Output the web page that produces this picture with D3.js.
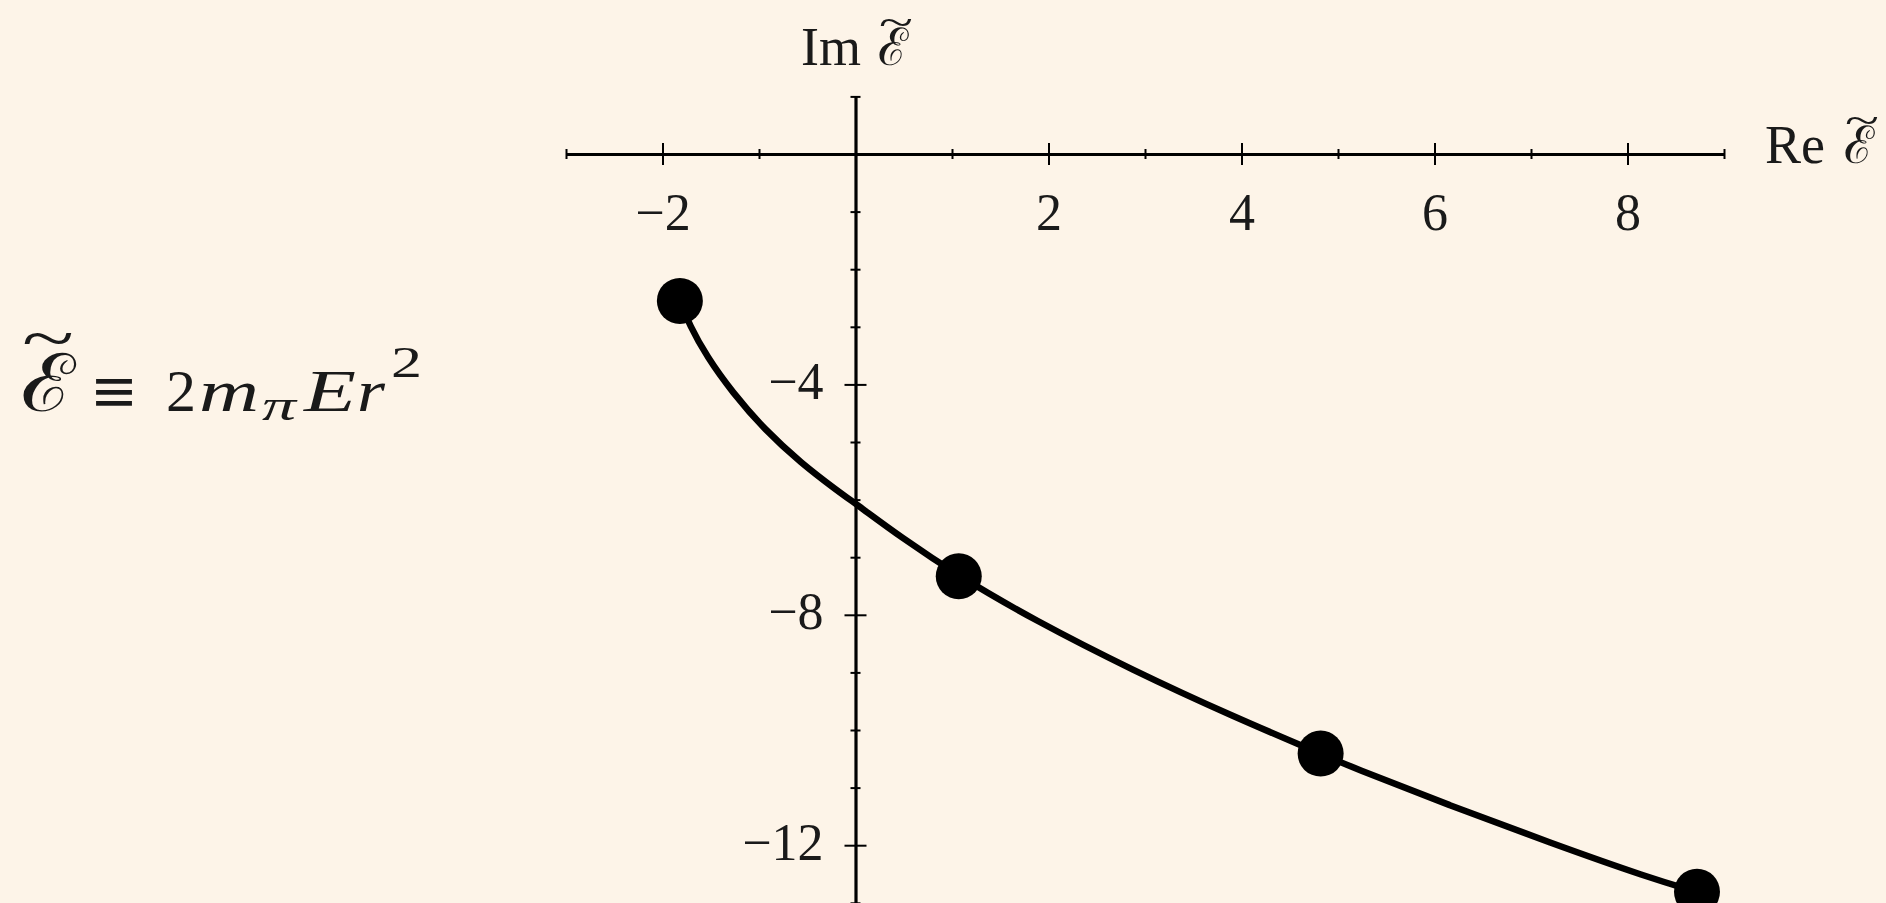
<!DOCTYPE html>
<html>
<head>
<meta charset="utf-8">
<script src="https://cdn.jsdelivr.net/npm/d3@7"></script>
<style>
  html, body { margin: 0; padding: 0; background: #fdf4e8; }
  svg { display: block; }
  text { font-family: "Liberation Serif", "DejaVu Serif", serif; fill: #1a1a1a; }
</style>
</head>
<body>
<svg id="chart" width="1886" height="903"></svg>
<script>
// Points marked on the trajectory (Re, Im of the scaled energy)
const markerRe = [-1.82, 1.07, 4.82, 8.72];
const markerIm = [-2.55, -7.33, -10.41, -12.81];

// Trajectory of the pole in the complex energy plane
const curveRe = [-1.82, -1.72, -1.54, -1.28, -0.94, -0.56, -0.20, 0.05, 0.46, 1.07, 1.84, 2.88, 3.92, 4.82, 5.12, 6.16, 7.20, 8.23, 8.72];
const curveIm = [-2.55, -2.97, -3.52, -4.13, -4.79, -5.37, -5.83, -6.13, -6.64, -7.33, -8.08, -8.97, -9.77, -10.41, -10.63, -11.31, -11.96, -12.57, -12.81];

// Axis ticks
const xMajorTicks = [-2, 2, 4, 6, 8];
const xMinorTicks = [-3, -1, 1, 3, 5, 7, 9];
const yMajorTicks = [-4, -8, -12];
const yMinorTicks = [1, -1, -2, -3, -5, -6, -7, -9, -10, -11, -13];

const svg = d3.select("#chart");
const W = 1886, H = 903;

const x = d3.scaleLinear().domain([-3, 9]).range([566, 1724]);
const y = d3.scaleLinear().domain([1, -14]).range([96.4, 96.4 + 15 * 57.6]);

svg.append("rect").attr("width", W).attr("height", H).attr("fill", "#fdf4e8");

const plot = svg.append("g");
const minus = d => (d < 0 ? "\u2212" + Math.abs(d) : String(d));

// Horizontal (real) axis through the origin, ticks on both sides
const gx = plot.append("g").attr("transform", `translate(0,${y(0)})`);
gx.append("g")
  .call(d3.axisBottom(x).tickValues(xMinorTicks).tickSize(5).tickSizeOuter(0).tickFormat(""))
  .call(g => g.select(".domain").attr("stroke", "#000").attr("stroke-width", 3.2))
  .call(g => g.selectAll(".tick line").attr("y1", -5).attr("stroke", "#000").attr("stroke-width", 2));
gx.append("g")
  .call(d3.axisBottom(x).tickValues(xMajorTicks).tickSize(11).tickSizeOuter(0).tickFormat(minus))
  .call(g => g.select(".domain").remove())
  .call(g => g.selectAll(".tick line").attr("y1", -11).attr("stroke", "#000").attr("stroke-width", 2))
  .call(g => g.selectAll(".tick text")
    .attr("y", 76).attr("dy", 0)
    .attr("font-size", 52).attr("font-family", "Liberation Serif").attr("fill", "#1a1a1a"));

// Vertical (imaginary) axis through the origin
const gy = plot.append("g").attr("transform", `translate(${x(0)},0)`);
gy.append("g")
  .call(d3.axisLeft(y).tickValues(yMinorTicks).tickSize(5).tickSizeOuter(0).tickFormat(""))
  .call(g => g.select(".domain").attr("stroke", "#000").attr("stroke-width", 3.2))
  .call(g => g.selectAll(".tick line").attr("x1", 5).attr("stroke", "#000").attr("stroke-width", 2));
gy.append("g")
  .call(d3.axisLeft(y).tickValues(yMajorTicks).tickSize(11).tickSizeOuter(0).tickFormat(minus))
  .call(g => g.select(".domain").remove())
  .call(g => g.selectAll(".tick line").attr("x1", 11).attr("stroke", "#000").attr("stroke-width", 2))
  .call(g => g.selectAll(".tick text")
    .attr("x", -32).attr("dy", 14).attr("text-anchor", "end")
    .attr("font-size", 52).attr("font-family", "Liberation Serif").attr("fill", "#1a1a1a"));

// Trajectory curve (B-spline through the sampled points keeps it smooth)
const pts = curveRe.map((d, i) => [d, curveIm[i]]);
plot.append("path")
  .datum(pts)
  .attr("fill", "none")
  .attr("stroke", "#000")
  .attr("stroke-width", 6.5)
  .attr("stroke-linecap", "round")
  .attr("d", d3.line().x(d => x(d[0])).y(d => y(d[1])).curve(d3.curveBasis));

// Marked points
plot.selectAll("circle.mark")
  .data(markerRe.map((d, i) => [d, markerIm[i]]))
  .join("circle")
  .attr("class", "mark")
  .attr("cx", d => x(d[0]))
  .attr("cy", d => y(d[1]))
  .attr("r", 23)
  .attr("fill", "#000");

// Script E with a wide tilde, appended as tspans of an existing text
function tildeE(t, xPos, base, size, eW, tildeW, tildeY) {
  t.append("tspan").attr("x", xPos).attr("y", base)
    .attr("font-family", "DejaVu Serif").attr("font-size", size)
    .attr("textLength", eW).attr("lengthAdjust", "spacingAndGlyphs").text("\u2130");
  t.append("tspan").attr("x", xPos + 1).attr("y", tildeY)
    .attr("font-family", "Liberation Serif").attr("font-size", size * 0.8)
    .attr("textLength", tildeW).attr("lengthAdjust", "spacingAndGlyphs")
    .text("~");
}

const titles = svg.append("g");
const imT = titles.append("text").attr("font-size", 54);
imT.append("tspan").attr("x", 801).attr("y", 65).text("Im");
tildeE(imT, 878, 65, 52, 30, 34, 36);

const reT = titles.append("text").attr("font-size", 54);
reT.append("tspan").attr("x", 1765).attr("y", 163).text("Re");
tildeE(reT, 1844, 163, 52, 30, 34, 134);

// Definition of the scaled energy
const eq = svg.append("text").attr("font-size", 60);
tildeE(eq, 21, 411, 80, 54, 52, 360);
eq.append("tspan").attr("x", 90).attr("y", 411).attr("font-family", "DejaVu Serif")
  .attr("textLength", 48).attr("lengthAdjust", "spacingAndGlyphs").text("\u2261");
eq.append("tspan").attr("x", 166).attr("y", 411).text("2");
eq.append("tspan").attr("x", 199).attr("y", 411).attr("font-style", "italic")
  .attr("textLength", 60).attr("lengthAdjust", "spacingAndGlyphs").text("m");
eq.append("tspan").attr("x", 262).attr("y", 420).attr("font-style", "italic").attr("font-size", 44)
  .attr("textLength", 34).attr("lengthAdjust", "spacingAndGlyphs").text("\u03c0");
eq.append("tspan").attr("x", 304).attr("y", 411).attr("font-style", "italic")
  .attr("textLength", 52).attr("lengthAdjust", "spacingAndGlyphs").text("E");
eq.append("tspan").attr("x", 357).attr("y", 411).attr("font-style", "italic")
  .attr("textLength", 28).attr("lengthAdjust", "spacingAndGlyphs").text("r");
eq.append("tspan").attr("x", 391).attr("y", 377).attr("font-size", 44)
  .attr("textLength", 31).attr("lengthAdjust", "spacingAndGlyphs").text("2");
</script>
</body>
</html>
